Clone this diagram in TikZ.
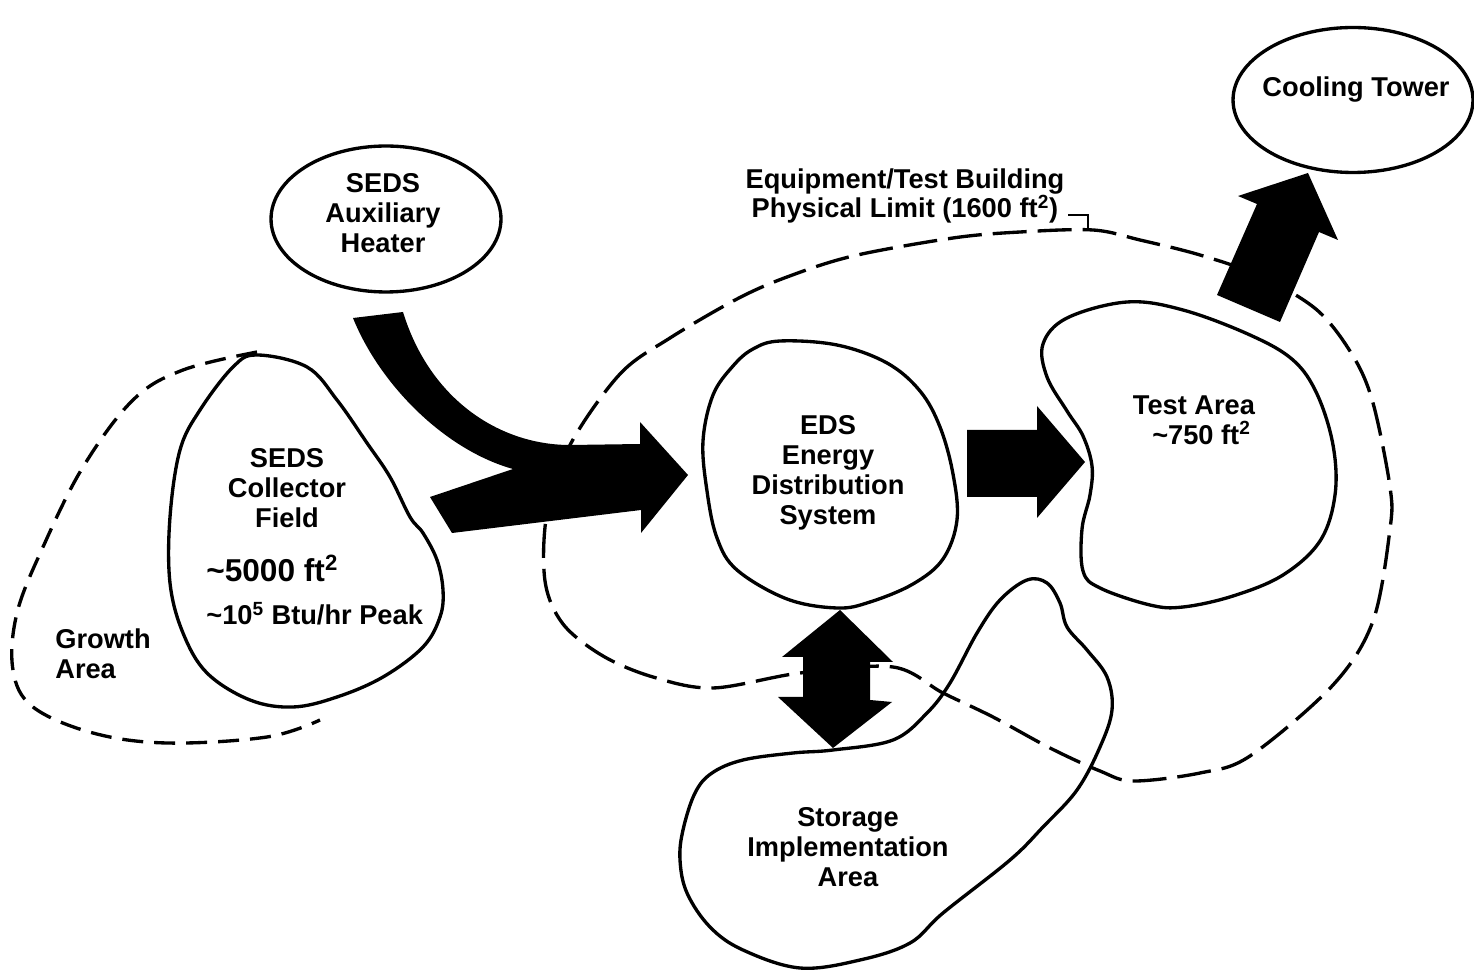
\documentclass[tikz,border=0pt]{standalone}
\usepackage{fontspec}
\setmainfont{Liberation Sans}
\usetikzlibrary{shapes.geometric}

\begin{document}
\begin{tikzpicture}[x=0.02cm, y=-0.02cm,
    outline/.style={line width=1.9pt, line join=round},
    limit/.style={line width=1.9pt, dash pattern=on 0.68cm off 0.22cm},
    growth/.style={line width=1.9pt, dash pattern=on 0.42cm off 0.22cm},
    bigarrow/.style={fill=black},
    lbl/.style={font=\bfseries\fontsize{15.5}{17}\selectfont, align=center, inner sep=0pt},
    oval/.style={ellipse, draw, line width=1.9pt, inner sep=0pt},
]
\useasboundingbox (0,0) rectangle (1474,972);

% ovals
\node[oval, minimum width=4.6cm, minimum height=2.92cm] (aux) at (386,219) {};
\node[oval, minimum width=4.8cm, minimum height=2.9cm] (cool) at (1353,100) {};

% areas
\draw[outline] plot[smooth cycle, tension=0.6] coordinates {(257,355) (307,367) (337,400) (367,443) (390,477) (410,517) (423,533) (437,560) (443,590) (440,617) (423,647) (383,677) (337,697) (293,707) (250,700) (207,673) (183,633) (170,583) (170,517) (180,450) (200,410) (233,367)};
\draw[growth] plot[smooth, tension=0.6] coordinates {(257,352) (183,370) (133,400) (83,467) (43,547) (17,613) (13,670) (33,707) (93,733) (167,743) (267,737) (320,720)};
\draw[outline] plot[smooth cycle, tension=0.6] coordinates {(780,341) (837,345) (887,363) (920,391) (940,427) (953,474) (957,520) (943,559) (913,584) (870,602) (837,608) (787,599) (737,570) (717,538) (707,491) (703,441) (713,395) (733,366) (753,349)};
\draw[outline] plot[smooth cycle, tension=0.6] coordinates {(1043,344) (1067,318) (1127,302) (1183,310) (1250,335) (1293,360) (1317,394) (1333,445) (1335,495) (1320,541) (1283,575) (1233,596) (1183,607) (1150,605) (1100,588) (1083,571) (1082,529) (1090,495) (1092,466) (1083,436) (1067,411) (1047,377)};
\draw[outline] plot[smooth cycle, tension=0.6] coordinates {(833,750) (893,740) (927,713) (950,683) (977,633) (1000,600) (1027,580) (1047,583) (1060,603) (1067,627) (1087,650) (1107,677) (1112,710) (1100,747) (1077,790) (1043,827) (1010,860) (943,913) (910,943) (860,960) (800,968) (743,950) (710,927) (687,893) (680,860) (683,830) (695,793) (712,773) (743,760) (793,753)};

% building limit
\draw[limit] plot[smooth cycle, tension=0.55] coordinates {(570,445) (620,374) (670,338) (737,299) (787,277) (853,256) (953,238) (1020,232) (1093,230) (1140,240) (1200,255) (1260,276) (1317,310) (1353,356) (1373,403) (1390,487) (1390,529) (1373,621) (1333,685) (1250,756) (1200,773) (1133,781) (1100,771) (1050,748) (993,717) (943,693) (893,667) (800,673) (713,688) (653,677) (603,656) (563,624) (545,581) (547,513)};
\coordinate (brkA) at (1068,215);
\coordinate (brkB) at (1088,231);
\draw[line width=1.4pt] (brkA) -| (brkB);

% block arrows
\fill[bigarrow] (353,318) -- (403,312) .. controls (430,400) and (500,445) .. (570,445)
    -- (640,444) -- (640,422) -- (688,475) -- (641,533) -- (641,510) -- (452,533) -- (430,497) -- (513,469)
    .. controls (445,450) and (380,385) .. (353,318) -- cycle;
\fill[bigarrow] (967,430) -- (1037,430) -- (1037,406) -- (1085,462) -- (1037,518) -- (1037,497) -- (967,497) -- cycle;
\fill[bigarrow] (840,610) -- (893,662) -- (870,662) -- (870,700) -- (892,702) -- (833,748) -- (778,697) -- (803,697) -- (803,657) -- (782,657) -- cycle;
\fill[bigarrow] (1217,295) -- (1257,204) -- (1238,196) -- (1308,173) -- (1338,240) -- (1319,232) -- (1280,322) -- cycle;

% labels
\node[lbl] (auxLbl) at (383,213) {SEDS\\Auxiliary\\Heater};
\node[lbl] (coolLbl) at (1356,90) {Cooling Tower};
\node[lbl] (limitLbl) at (905,196) {Equipment/Test Building\\Physical Limit (1600 ft\textsuperscript{2})};
\node[lbl] (fieldLbl) at (287,488) {SEDS\\Collector\\Field};
\node[lbl, anchor=west, font=\bfseries\fontsize{18}{20}\selectfont] (fieldArea) at (206,568) {\textasciitilde5000 ft\textsuperscript{2}};
\node[lbl, anchor=west] (fieldPeak) at (206,614) {\textasciitilde10\textsuperscript{5} Btu/hr Peak};
\node[lbl, align=left, anchor=west] (growthLbl) at (55,654) {Growth\\Area};
\node[lbl] (edsLbl) at (828,473) {EDS\\Energy\\Distribution\\System};
\node[lbl] (testLbl) at (1194,420) {Test Area\\\hspace*{0.3cm}\textasciitilde750 ft\textsuperscript{2}};
\node[lbl] (storeLbl) at (848,847) {Storage\\Implementation\\Area};
\end{tikzpicture}
\end{document}
